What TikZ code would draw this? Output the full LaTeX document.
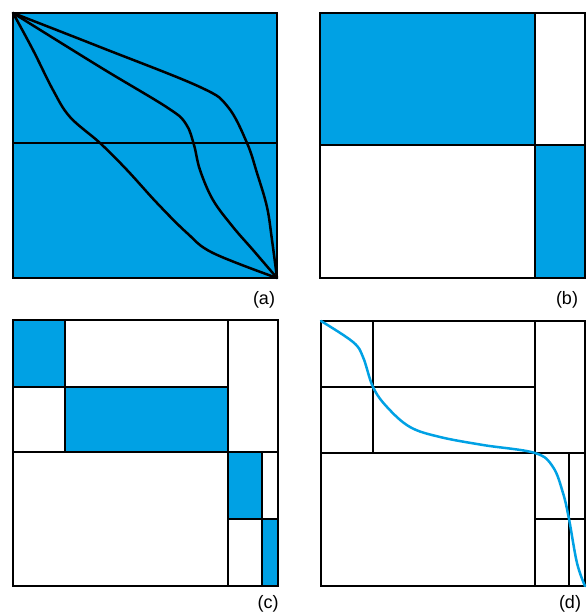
\documentclass[tikz,border=0pt]{standalone}
\usepackage{fontspec}
\setmainfont{Liberation Sans}
\definecolor{fillblue}{RGB}{0,161,228}
\begin{document}
\begin{tikzpicture}[x=1pt,y=-1pt,
  outer/.style={draw=black,line width=2.4pt},
  inner/.style={draw=black,line width=1.3pt},
  blk/.style={fill=fillblue},
  pathcurve/.style={black,line width=2.5pt,line cap=round,line join=round},
  bluecurve/.style={fillblue,line width=2.5pt,line cap=round,line join=round},
  lab/.style={font=\fontsize{18}{21}\selectfont,inner sep=0pt}]
\useasboundingbox (0,0) rectangle (587,614);
% ---------- (a)
\fill[blk] (13,13) rectangle (277,278);
\draw[inner] (13,143) -- (277,143);
\draw[pathcurve] plot[smooth,tension=0.6] coordinates {(13,13) (33,50) (53,90) (70,117) (100,143) (127,170) (157,203) (187,233) (213,253) (277,278)};
\draw[pathcurve] plot[smooth,tension=0.6] coordinates {(13,13) (100,67) (168,108) (186,124) (194,145) (200,170) (213,200) (233,227) (253,250) (277,278)};
\draw[pathcurve] plot[smooth,tension=0.6] coordinates {(13,13) (100,47) (200,87) (228,107) (247,143) (257,173) (267,207) (272,240) (277,278)};
\draw[outer] (13,13) rectangle (277,278);
\node[lab] (la) at (264,300) {(a)};
% ---------- (b)
\fill[blk] (320,13) rectangle (535,145);
\fill[blk] (535,145) rectangle (585,278);
\draw[inner] (535,13) -- (535,278);
\draw[inner] (320,145) -- (585,145);
\draw[outer] (320,13) rectangle (585,278);
\node[lab] (lb) at (567,300) {(b)};
% ---------- (c)
\fill[blk] (13,320) rectangle (65,387);
\fill[blk] (65,387) rectangle (228,452);
\fill[blk] (228,452) rectangle (262,519);
\fill[blk] (262,519) rectangle (278,586);
\draw[inner] (65,320) -- (65,452);
\draw[inner] (13,387) -- (228,387);
\draw[inner] (228,320) -- (228,586);
\draw[inner] (13,452) -- (278,452);
\draw[inner] (262,452) -- (262,586);
\draw[inner] (228,519) -- (278,519);
\draw[outer] (13,320) rectangle (278,586);
\node[lab] (lc) at (268,604) {(c)};
% ---------- (d)
\draw[inner] (373,321) -- (373,453);
\draw[inner] (321,387) -- (535,387);
\draw[inner] (535,321) -- (535,586);
\draw[inner] (321,453) -- (585,453);
\draw[inner] (569,453) -- (569,586);
\draw[inner] (535,519) -- (585,519);
\draw[outer] (321,321) rectangle (585,586);
\draw[bluecurve] plot[smooth,tension=0.6] coordinates {(321,321) (353,342) (363,357) (373,387) (387,407) (410,427) (440,437) (483,445) (535,453) (553,467) (563,493) (569,519) (577,563) (585,586)};
\node[lab] (ld) at (570,604) {(d)};
\end{tikzpicture}
\end{document}
